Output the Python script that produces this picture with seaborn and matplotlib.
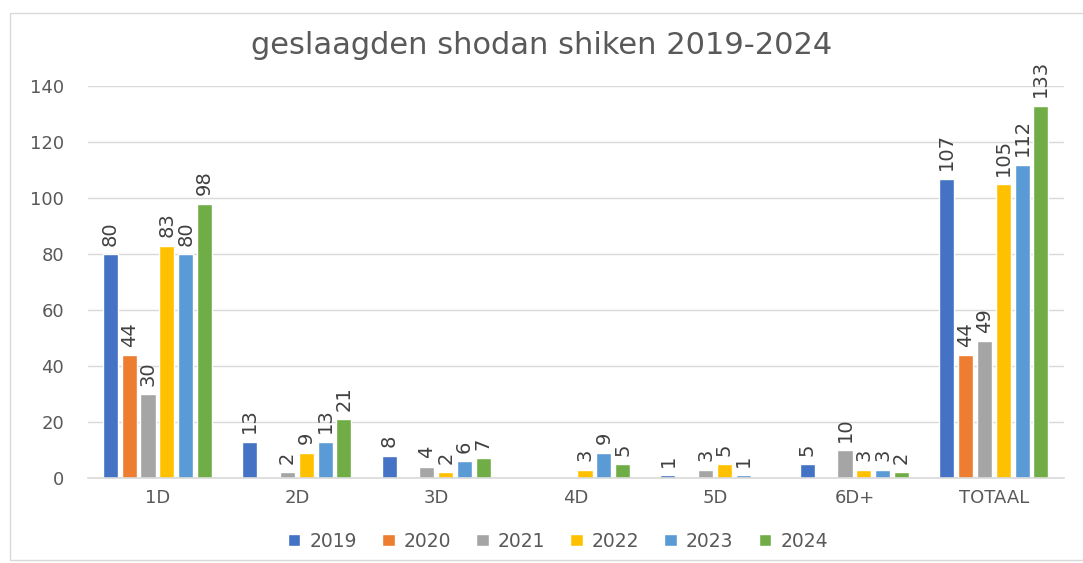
import pandas as pd
import matplotlib.pyplot as plt
import seaborn as sns
from matplotlib.patches import Rectangle

grades = ["1D", "2D", "3D", "4D", "5D", "6D+", "TOTAAL"]
years = ["2019", "2020", "2021", "2022", "2023", "2024"]
y2019 = [80, 13, 8, 0, 1, 5, 107]
y2020 = [44, 0, 0, 0, 0, 0, 44]
y2021 = [30, 2, 4, 0, 3, 10, 49]
y2022 = [83, 9, 2, 3, 5, 3, 105]
y2023 = [80, 13, 6, 9, 1, 3, 112]
y2024 = [98, 21, 7, 5, 0, 2, 133]
colors = ["#4472C4", "#ED7D31", "#A5A5A5", "#FFC000", "#5B9BD5", "#70AD47"]

series = [y2019, y2020, y2021, y2022, y2023, y2024]
rows = []
for year, vals in zip(years, series):
    for g, v in zip(grades, vals):
        rows.append({"graad": g, "jaar": year, "aantal": v})
df = pd.DataFrame(rows)

sns.set_style("white")
plt.rcParams["font.family"] = ["DejaVu Sans"]

fig = plt.figure(figsize=(10.83, 5.63), dpi=100)
ax = fig.add_axes([0.081, 0.151, 0.901, 0.696])

sns.barplot(data=df, x="graad", y="aantal", hue="jaar", hue_order=years,
            palette=colors, width=0.81, gap=0.2, saturation=1, ax=ax)

# labels boven de balken, nullen weglaten
for cont, vals in zip(ax.containers, series):
    labels = [str(v) if v else "" for v in vals]
    ax.bar_label(cont, labels=labels, rotation=90, padding=6, fontsize=14,
                 color="#404040")

ax.set_ylim(0, 140)
ax.set_yticks(range(0, 141, 20))
ax.set_xlim(-0.5, 6.5)
ax.yaxis.grid(True, color="#d9d9d9", linewidth=1)
ax.set_axisbelow(True)
for s in ["top", "right", "left"]:
    ax.spines[s].set_visible(False)
ax.spines["bottom"].set_color("#d9d9d9")
ax.spines["bottom"].set_linewidth(1.2)
ax.tick_params(axis="both", length=0, labelsize=13, labelcolor="#595959")
ax.tick_params(axis="x", pad=8)
ax.tick_params(axis="y", pad=17)
ax.set_xlabel("")
ax.set_ylabel("")

handles, labels = ax.get_legend_handles_labels()
ax.get_legend().remove()
fig.legend(handles, labels, loc="center", bbox_to_anchor=(0.515, 0.039), ncol=6,
           frameon=False, handlelength=0.68, handleheight=0.68, handletextpad=0.48,
           columnspacing=1.33, fontsize=13.5, labelcolor="#595959")

fig.text(0.5, 0.92, "geslaagden shodan shiken 2019-2024", ha="center", va="center",
         fontsize=22, color="#595959")

fig.patches.append(Rectangle((0.009, 0.005), 1.2, 0.972, transform=fig.transFigure,
                             fill=False, edgecolor="#d9d9d9", linewidth=1))

fig.savefig("out.png", dpi=100, facecolor="white")
